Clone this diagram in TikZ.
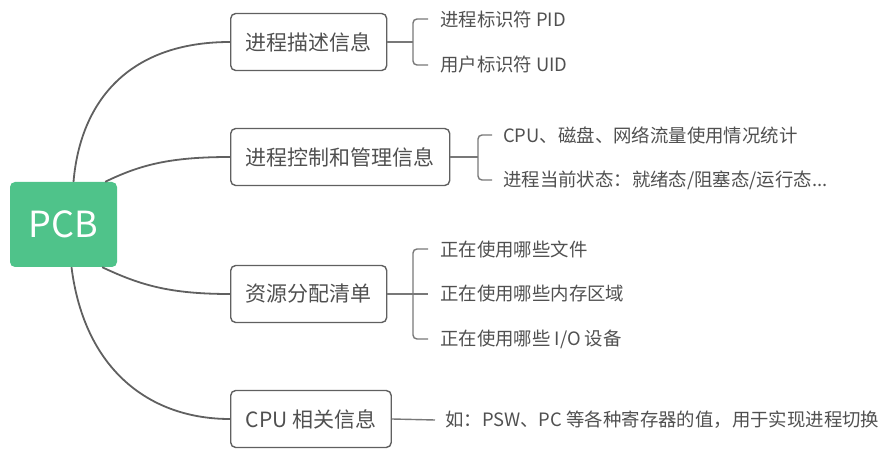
\documentclass[tikz,border=0pt]{standalone}
\usepackage{fontspec}
\setmainfont{Noto Sans CJK SC}
\usepackage{tikz}
\usetikzlibrary{calc}
\definecolor{pcbgreen}{HTML}{4FC38A}
\definecolor{linegray}{HTML}{606060}
\definecolor{textgray}{HTML}{505050}
\tikzstyle{link} = [line width=1.8pt,color=linegray]
\tikzstyle{bracket} = [line width=1.4pt,color=linegray!85,rounded corners=4pt]

\begin{document}
\begin{tikzpicture}
[x=1pt,y=-1pt, rootbox/.style={rectangle,fill=pcbgreen,rounded corners=5pt,minimum width=107pt,minimum height=85pt,text=white,font=\fontsize{36}{40}\selectfont},
topicbox/.style={rectangle,draw=linegray,line width=1.4pt,rounded corners=5pt,minimum height=57pt,inner xsep=15pt,anchor=west,text=textgray,font=\fontsize{21}{24}\selectfont},
leafnode/.style={inner sep=0pt,anchor=west,text=textgray,font=\fontsize{18.4}{21}\selectfont},]
\useasboundingbox (0,0) rectangle (887,457);
\node[rootbox] (pcb) at (63.5,224.5) {PCB};

\node[topicbox] (desc) at (230,42) {进程描述信息};
\node[topicbox] (ctrl) at (230,157) {进程控制和管理信息};
\node[topicbox] (res) at (230,294) {资源分配清单};
\node[topicbox] (cpu) at (230,419) {CPU 相关信息};

\node[leafnode] (pid) at (440,19) {进程标识符 PID};
\node[leafnode] (uid) at (440,65) {用户标识符 UID};
\node[leafnode] (stat) at (503,135) {CPU、磁盘、网络流量使用情况统计};
\node[leafnode] (state) at (503,180) {进程当前状态：就绪态/阻塞态/运行态...};
\node[leafnode] (file) at (440,249) {正在使用哪些文件};
\node[leafnode] (mem) at (440,294) {正在使用哪些内存区域};
\node[leafnode] (dev) at (440,339) {正在使用哪些 I/O 设备};
\node[leafnode] (reg) at (445,420) {如：PSW、PC 等各种寄存器的值，用于实现进程切换};

% branches from PCB
\draw[link] ([xshift=10pt]pcb.north) .. controls +(7,-82) and +(-100,0) .. (desc.west);
\draw[link] ([xshift=-12pt]pcb.north east) .. controls +(35,-17) and +(-60,0) .. (ctrl.west);
\draw[link] ([xshift=-15pt]pcb.south east) .. controls +(38,18) and +(-60,0) .. (res.west);
\draw[link] ([xshift=8pt]pcb.south) .. controls +(13,103) and +(-80,0) .. (cpu.west);

% brackets
\coordinate (s1) at ([xshift=-27pt]uid.west);
\draw[bracket] ([xshift=-12pt]pid.west) -| (s1) -- ([xshift=-12pt]uid.west);
\draw[bracket] (desc.east) -- (desc.east -| s1);

\coordinate (s2) at ([xshift=-25pt]state.west);
\draw[bracket] ([xshift=-11pt]stat.west) -| (s2) -- ([xshift=-11pt]state.west);
\draw[bracket] (ctrl.east) -- (ctrl.east -| s2);

\coordinate (s3) at ([xshift=-27pt]dev.west);
\draw[bracket] ([xshift=-12pt]file.west) -| (s3) -- ([xshift=-12pt]dev.west);
\draw[bracket] (res.east) -- ([xshift=-12pt]mem.west);

\draw[bracket] (cpu.east) -- ([xshift=-10pt]reg.west);
\end{tikzpicture}
\end{document}
